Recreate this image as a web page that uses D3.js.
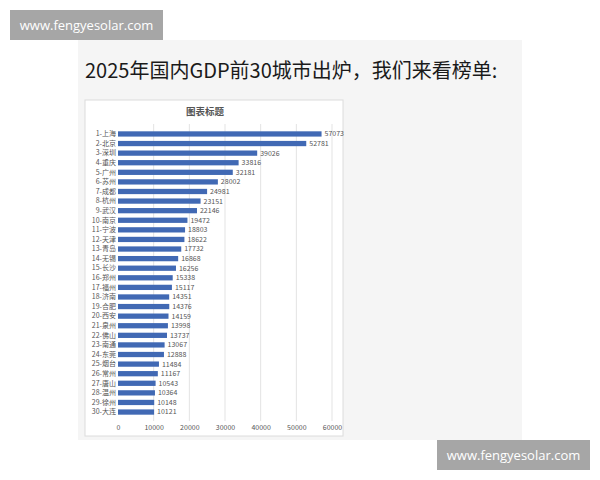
<!DOCTYPE html>
<html>
<head>
<meta charset="utf-8">
<script src="https://cdn.jsdelivr.net/npm/d3@7"></script>
<style>
  body { margin: 0; background: #fff; }
  svg { display: block; }
</style>
</head>
<body>
<svg id="chart" width="600" height="480"></svg>
<script>
// data
var cities = ['上海','北京','深圳','重庆','广州','苏州','成都','杭州','武汉','南京',
  '宁波','天津','青岛','无锡','长沙','郑州','福州','济南','合肥','西安',
  '泉州','佛山','南通','东莞','烟台','常州','唐山','温州','徐州','大连'];
var gdp = [57073,52781,39026,33816,32181,28002,24981,23151,22146,19472,
  18803,18622,17732,16868,16256,15338,15117,14351,14376,14159,
  13998,13737,13067,12888,11484,11167,10543,10364,10148,10121];
var ticks = [0,10000,20000,30000,40000,50000,60000];
var pageTitle = '2025年国内GDP前30城市出炉，我们来看榜单:';
var chartTitle = '图表标题';
var site = 'www.fengyesolar.com';

var rows = cities.map(function(c, i){
  return { label: (i + 1) + '-' + c, value: gdp[i] };
});

var svg = d3.select('#chart');
var cjk = '"Noto Sans CJK SC", "Noto Sans", sans-serif';

// grey page panel
svg.append('rect')
  .attr('x', 78).attr('y', 40)
  .attr('width', 444).attr('height', 400)
  .attr('fill', '#f5f5f5');

svg.append('text')
  .attr('x', 85).attr('y', 78)
  .attr('font-family', cjk)
  .attr('font-size', 20)
  .attr('fill', '#1a1a1a')
  .text(pageTitle);

// white chart box
svg.append('rect')
  .attr('x', 85).attr('y', 100)
  .attr('width', 258).attr('height', 336)
  .attr('fill', '#fff')
  .attr('stroke', '#dcdcdc');

svg.append('text')
  .attr('x', 205).attr('y', 115)
  .attr('text-anchor', 'middle')
  .attr('font-family', cjk)
  .attr('font-size', 9.5)
  .attr('font-weight', 'bold')
  .attr('fill', '#555')
  .text(chartTitle);

var x = d3.scaleLinear().domain([0, 60000]).range([118, 332]);
var y = d3.scaleBand()
  .domain(rows.map(function(d){ return d.label; }))
  .range([127, 419])
  .padding(0.45);

// gridlines
svg.append('g').selectAll('line')
  .data(ticks.slice(1))
  .enter().append('line')
  .attr('x1', function(d){ return x(d); })
  .attr('x2', function(d){ return x(d); })
  .attr('y1', 124).attr('y2', 421)
  .attr('stroke', '#e3e3e3');

// bars
svg.append('g').selectAll('rect')
  .data(rows)
  .enter().append('rect')
  .attr('x', x(0))
  .attr('y', function(d){ return y(d.label); })
  .attr('width', function(d){ return x(d.value) - x(0); })
  .attr('height', y.bandwidth())
  .attr('fill', '#4169b4');

// value labels
svg.append('g').selectAll('text')
  .data(rows)
  .enter().append('text')
  .attr('x', function(d){ return x(d.value) + 3; })
  .attr('y', function(d){ return y(d.label) + y.bandwidth() / 2; })
  .attr('dy', '0.35em')
  .attr('font-family', cjk)
  .attr('font-size', 7)
  .attr('fill', '#555')
  .text(function(d){ return d.value; });

// category axis
var yAxis = svg.append('g')
  .attr('transform', 'translate(' + x(0) + ',0)')
  .call(d3.axisLeft(y).tickSize(0).tickPadding(2));
yAxis.select('.domain').remove();
yAxis.selectAll('text')
  .attr('font-family', cjk)
  .attr('font-size', 7)
  .attr('fill', '#555');

// value axis
var xAxis = svg.append('g')
  .attr('transform', 'translate(0,424)')
  .call(d3.axisBottom(x).tickValues(ticks).tickFormat(d3.format('d')).tickSize(0).tickPadding(1));
xAxis.select('.domain').remove();
xAxis.selectAll('text')
  .attr('font-family', cjk)
  .attr('font-size', 7)
  .attr('fill', '#555');

// site stamps
function stamp(x0, y0){
  svg.append('rect')
    .attr('x', x0).attr('y', y0)
    .attr('width', 153).attr('height', 30)
    .attr('fill', '#a6a6a6');
  svg.append('text')
    .attr('x', x0 + 76.5).attr('y', y0 + 15)
    .attr('dy', '0.35em')
    .attr('text-anchor', 'middle')
    .attr('font-family', '"Open Sans", sans-serif')
    .attr('font-size', 13)
    .attr('fill', '#fff')
    .text(site);
}
stamp(10, 10);
stamp(437, 440);
</script>
</body>
</html>
